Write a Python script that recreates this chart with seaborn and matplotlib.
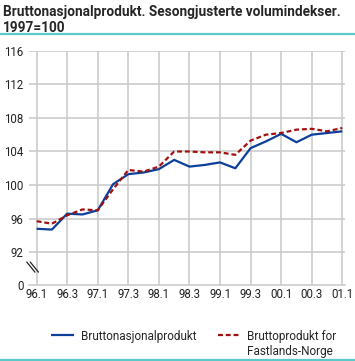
import pandas as pd
import matplotlib
matplotlib.use('Agg')
import matplotlib.pyplot as plt
import seaborn as sns

# Quarterly volume indices, 1997=100
quarters = ['96.1', '96.2', '96.3', '96.4', '97.1', '97.2', '97.3', '97.4',
            '98.1', '98.2', '98.3', '98.4', '99.1', '99.2', '99.3', '99.4',
            '00.1', '00.2', '00.3', '00.4', '01.1']
bnp = [94.8, 94.7, 96.6, 96.5, 97.0, 100.1, 101.3, 101.5,
       101.9, 103.0, 102.2, 102.4, 102.7, 102.0, 104.4, 105.2,
       106.1, 105.1, 106.0, 106.2, 106.4]
fastland = [95.7, 95.4, 96.4, 97.1, 97.0, 99.5, 101.8, 101.6,
            102.2, 104.0, 104.0, 103.9, 103.9, 103.6, 105.3, 106.0,
            106.2, 106.6, 106.7, 106.4, 106.8]
series_names = ['Bruttonasjonalprodukt', 'Bruttoprodukt for Fastlands-Norge']
y_ticks = [92, 96, 100, 104, 108, 112, 116]

df = pd.concat([
    pd.DataFrame({'pos': range(len(quarters)), 'value': bnp, 'series': series_names[0]}),
    pd.DataFrame({'pos': range(len(quarters)), 'value': fastland, 'series': series_names[1]}),
], ignore_index=True)

sns.set_style('white')
plt.rcParams['font.family'] = ['Roboto', 'DejaVu Sans']

fig = plt.figure(figsize=(3.55, 3.61), dpi=100)
ax = fig.add_axes([0.0825, 0.2105, 0.8895, 0.649])

sns.lineplot(data=df, x='pos', y='value', hue='series', style='series',
             palette=['#0b3f9a', '#a01010'], dashes=[(1, 0), (2.2, 1.3)],
             linewidth=1.6, ax=ax)

ybottom = 88.1
ax.set_ylim(ybottom, 116)
ax.set_xlim(-0.48, 20.18)
ax.set_yticks([ybottom] + y_ticks)
ax.set_yticklabels(['0'] + [str(v) for v in y_ticks])
ax.set_xticks(range(0, len(quarters), 2))
ax.set_xticklabels(quarters[::2])
ax.set_xticks(range(len(quarters)), minor=True)

grid_c = '#c8c8c8'
for v in y_ticks:
    ax.axhline(v, color=grid_c, lw=1.1, zorder=0)
for p in range(0, len(quarters), 2):
    ax.axvline(p, color=grid_c, lw=1.1, zorder=0)

for s in ['top', 'right', 'left']:
    ax.spines[s].set_visible(False)
ax.spines['bottom'].set_color(grid_c)
ax.spines['bottom'].set_linewidth(1.1)
ax.tick_params(axis='y', length=0, pad=4, labelsize=8.3, colors='#222222')
ax.tick_params(axis='x', which='major', length=0, pad=2, labelsize=8.3, colors='#222222')
ax.tick_params(axis='x', which='minor', direction='in', length=3, width=1, color=grid_c)
ax.set_xlabel('')
ax.set_ylabel('')

# axis break marks
for dx in (0.0, 0.011):
    ax.plot([-0.008 + dx, 0.018 + dx], [0.098, 0.055], transform=ax.transAxes,
            color='#222222', lw=0.9, clip_on=False)

# legend: second label wraps onto a second line, top-aligned like the original
handles, labels = ax.get_legend_handles_labels()
leg = ax.legend(handles, ['Bruttonasjonalprodukt', 'Bruttoprodukt for'],
                loc='upper left', bbox_to_anchor=(0.055, -0.17),
                ncol=2, frameon=False, fontsize=8.5, handlelength=1.9,
                handletextpad=0.6, columnspacing=1.8, borderaxespad=0)
fig.canvas.draw()
bb = leg.get_texts()[1].get_window_extent().transformed(fig.transFigure.inverted())
fig.text(bb.x0, bb.y0 - 0.006, 'Fastlands-Norge', ha='left', va='top', fontsize=8.5)

fig.text(0.008, 0.985, 'Bruttonasjonalprodukt. Sesongjusterte volumindekser.\n1997=100',
         ha='left', va='top', fontsize=9.85, fontweight='bold', linespacing=1.1)
teal = '#5cc9c9'
fig.add_artist(plt.Line2D([0, 1], [0.907, 0.907], color=teal, lw=1.6))
fig.add_artist(plt.Line2D([0, 1], [0.003, 0.003], color=teal, lw=1.6))

fig.savefig('out.png', dpi=100)
